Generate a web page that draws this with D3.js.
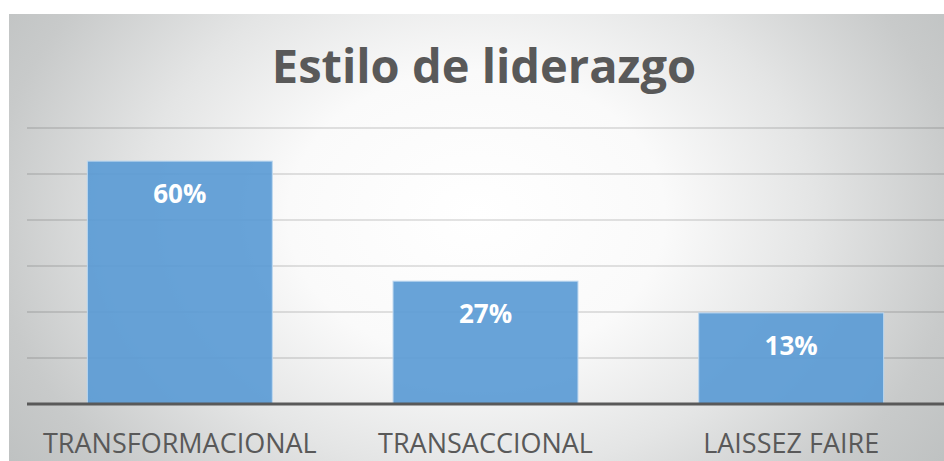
<!DOCTYPE html>
<html>
<head>
<meta charset="utf-8">
<script src="https://cdn.jsdelivr.net/npm/d3@7"></script>
<style>
  html, body { margin: 0; padding: 0; background: #fff; }
  svg { display: block; }
</style>
</head>
<body>
<div id="chart"></div>
<script>
// data
const categories = ["TRANSFORMACIONAL", "TRANSACCIONAL", "LAISSEZ FAIRE"];
const values = [5.28, 2.67, 1.98];          // bar heights in gridline units
const valueLabels = ["60%", "27%", "13%"];
const gridTicks = [1, 2, 3, 4, 5, 6];
const title = "Estilo de liderazgo";

const W = 944, H = 461;
const margin = {top: 14, left: 9};
const plot = {left: 27, right: 944, top: 128, bottom: 404};

const svg = d3.select("#chart")
  .append("svg")
  .attr("width", W)
  .attr("height", H);

// background gradient
const defs = svg.append("defs");
const grad = defs.append("radialGradient")
  .attr("id", "bg")
  .attr("cx", 0.5).attr("cy", 0.45).attr("r", 0.72)
  .attr("gradientTransform", "translate(0.5,0.45) scale(1,1.6) translate(-0.5,-0.45)");
[[0, "#ffffff"], [0.28, "#fafafa"], [0.5, "#e4e5e5"], [0.72, "#c8caca"], [1, "#b3b7b7"]]
  .forEach(s => grad.append("stop").attr("offset", s[0]).attr("stop-color", s[1]));

svg.append("rect")
  .attr("x", margin.left)
  .attr("y", margin.top)
  .attr("width", W - margin.left)
  .attr("height", H - margin.top)
  .attr("fill", "url(#bg)");

const x = d3.scaleBand()
  .domain(categories)
  .range([plot.left, plot.right])
  .paddingInner(0.395)
  .paddingOuter(0.1975);

const y = d3.scaleLinear()
  .domain([0, 6])
  .range([plot.bottom, plot.top]);

// gridlines
svg.append("g")
  .selectAll("line")
  .data(gridTicks)
  .join("line")
  .attr("x1", plot.left)
  .attr("x2", plot.right)
  .attr("y1", d => y(d))
  .attr("y2", d => y(d))
  .attr("stroke", "#000")
  .attr("stroke-opacity", 0.15)
  .attr("stroke-width", 1.5);

// bars
svg.append("g")
  .selectAll("rect")
  .data(values)
  .join("rect")
  .attr("x", (d, i) => x(categories[i]))
  .attr("y", d => y(d))
  .attr("width", x.bandwidth())
  .attr("height", d => y(0) - y(d))
  .attr("fill", "#5b9bd5")
  .attr("fill-opacity", 0.92)
  .attr("stroke", "#bcd7ef")
  .attr("stroke-width", 1);

// value labels
svg.append("g")
  .selectAll("text")
  .data(values)
  .join("text")
  .attr("x", (d, i) => x(categories[i]) + x.bandwidth() / 2)
  .attr("y", d => y(d) + 42)
  .attr("text-anchor", "middle")
  .attr("font-family", "'Open Sans', sans-serif")
  .attr("font-weight", "bold")
  .attr("font-size", 26)
  .attr("fill", "#fff")
  .text((d, i) => valueLabels[i]);

// baseline axis
const xAxis = svg.append("g")
  .attr("transform", `translate(0, ${plot.bottom})`)
  .call(d3.axisBottom(x).tickSize(0).tickPadding(30));
xAxis.select(".domain")
  .attr("stroke", "#595959")
  .attr("stroke-width", 3)
  .attr("d", `M${plot.left},0H${plot.right}`);
xAxis.selectAll("text")
  .attr("font-family", "'Open Sans', sans-serif")
  .attr("font-size", 27)
  .attr("fill", "#595959");

// title
svg.append("text")
  .attr("x", 484)
  .attr("y", 83)
  .attr("text-anchor", "middle")
  .attr("font-family", "'Open Sans', sans-serif")
  .attr("font-weight", "bold")
  .attr("font-size", 47)
  .attr("fill", "#595959")
  .text(title);
</script>
</body>
</html>
